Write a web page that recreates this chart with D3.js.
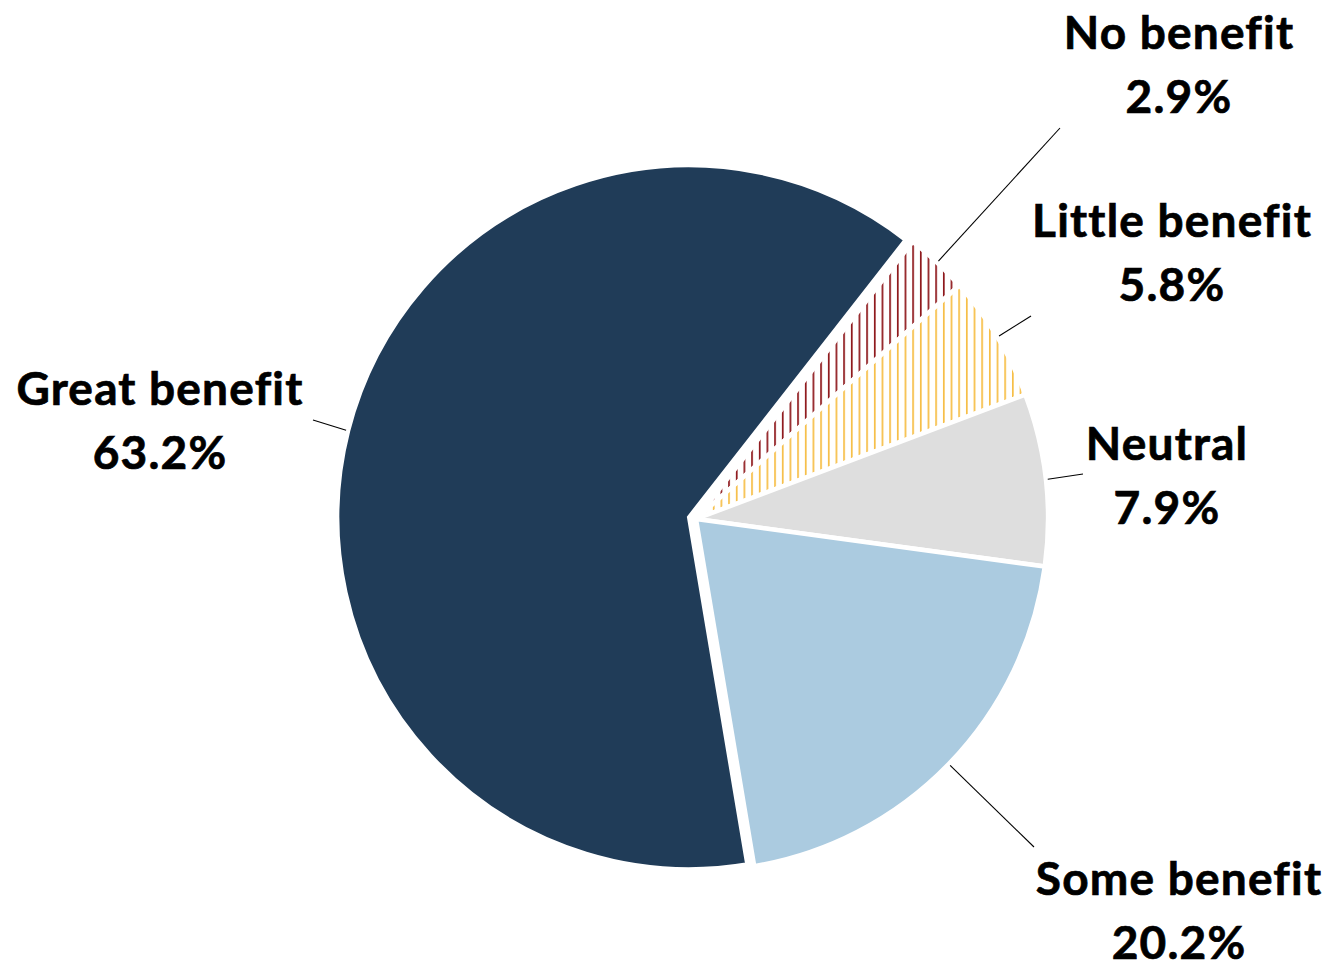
<!DOCTYPE html>
<html>
<head>
<meta charset="utf-8">
<script src="https://cdn.jsdelivr.net/npm/d3@7/dist/d3.min.js"></script>
<style>
  html, body { margin: 0; padding: 0; background: #fff; }
  svg { display: block; }
  text { font-family: Lato, "Open Sans", sans-serif; font-weight: 700; fill: #000; stroke: #000; stroke-width: 0.7px; letter-spacing: 1.2px; }
</style>
</head>
<body>
<svg id="chart" width="1336" height="964"></svg>
<script>
// ---- Data ----
const categories = ["No benefit", "Little benefit", "Neutral", "Some benefit", "Great benefit"];
const values = [2.9, 5.8, 7.9, 20.2, 63.2];
const valueLabels = ["2.9%", "5.8%", "7.9%", "20.2%", "63.2%"];

// ---- Styling / layout ----
const fills = ["url(#stripeRed)", "url(#stripeYellow)", "#DEDEDE", "#ABCBE0", "#203C58"];
const explode = [0, 0, 0, 0, 7];
// label anchor: center x, first baseline y, leader end point
const labelLayout = [
  { x: 1179, y: 49,  ex: 1060, ey: 128 },
  { x: 1172, y: 237, ex: 1031, ey: 316 },
  { x: 1167, y: 460, ex: 1083, ey: 474 },
  { x: 1179, y: 895, ex: 1034, ey: 847 },
  { x: 160,  y: 405, ex: 313,  ey: 420 }
];

const W = 1336, H = 964;
const cx = 696, cy = 519, R = 352;
const startDeg = 38;

const svg = d3.select("#chart");
const defs = svg.append("defs");

function stripe(id, color) {
  const p = defs.append("pattern")
    .attr("id", id)
    .attr("patternUnits", "userSpaceOnUse")
    .attr("x", 1.5).attr("y", 0)
    .attr("width", 7.67).attr("height", 10);
  p.append("rect").attr("width", 7.67).attr("height", 10).attr("fill", "#fff");
  p.append("rect").attr("x", 0).attr("y", 0).attr("width", 1.7).attr("height", 10).attr("fill", color);
}
stripe("stripeRed", "#8C1418");
stripe("stripeYellow", "#F6BE45");

const data = categories.map((c, i) => ({ cat: c, value: values[i], label: valueLabels[i], i }));

const pie = d3.pie()
  .sort(null)
  .value(d => d.value)
  .startAngle(startDeg * Math.PI / 180)
  .endAngle((startDeg + 360) * Math.PI / 180);

const arcs = pie(data);
const arc = d3.arc().innerRadius(0).outerRadius(R);

const g = svg.append("g").attr("transform", `translate(${cx},${cy})`);

function offset(d) {
  const a = (d.startAngle + d.endAngle) / 2;
  const e = explode[d.data.i];
  return [Math.sin(a) * e, -Math.cos(a) * e];
}

g.selectAll("path.slice")
  .data(arcs)
  .join("path")
  .attr("class", "slice")
  .attr("transform", d => { const o = offset(d); return `translate(${o[0]},${o[1]})`; })
  .attr("d", arc)
  .attr("fill", d => fills[d.data.i])
  .attr("stroke", "#fff")
  .attr("stroke-width", 4.5)
  .attr("stroke-linejoin", "miter");

// leader lines
g.selectAll("line.leader")
  .data(arcs)
  .join("line")
  .attr("class", "leader")
  .attr("x1", d => { const a = (d.startAngle + d.endAngle) / 2; return offset(d)[0] + Math.sin(a) * (R + 2); })
  .attr("y1", d => { const a = (d.startAngle + d.endAngle) / 2; return offset(d)[1] - Math.cos(a) * (R + 2); })
  .attr("x2", d => labelLayout[d.data.i].ex - cx)
  .attr("y2", d => labelLayout[d.data.i].ey - cy)
  .attr("stroke", "#000")
  .attr("stroke-width", 1.1);

// labels
const lbl = svg.selectAll("g.lbl")
  .data(arcs)
  .join("g")
  .attr("class", "lbl");

lbl.append("text")
  .attr("x", d => labelLayout[d.data.i].x)
  .attr("y", d => labelLayout[d.data.i].y)
  .attr("text-anchor", "middle")
  .attr("font-size", 46)
  .text(d => d.data.cat);

lbl.append("text")
  .attr("x", d => labelLayout[d.data.i].x)
  .attr("y", d => labelLayout[d.data.i].y + 64)
  .attr("text-anchor", "middle")
  .attr("font-size", 46)
  .text(d => d.data.label);
</script>
</body>
</html>
